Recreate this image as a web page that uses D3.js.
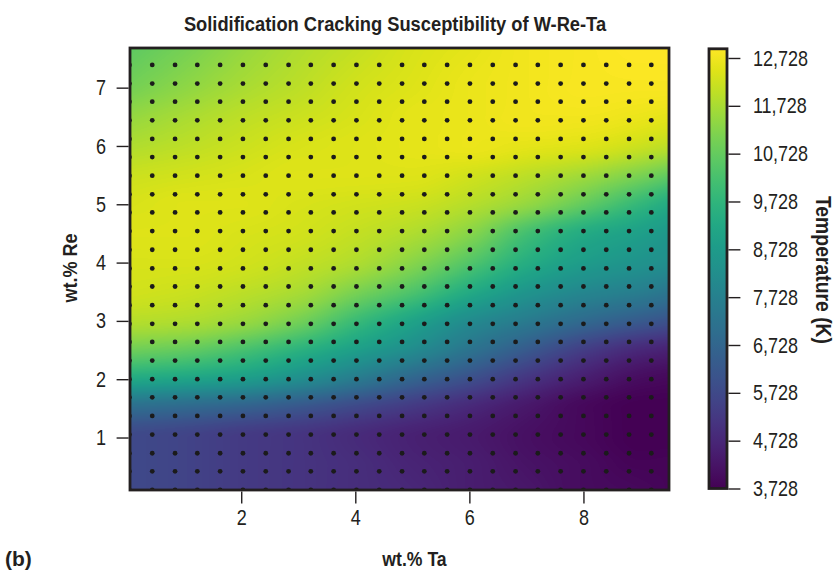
<!DOCTYPE html>
<html>
<head>
<meta charset="utf-8">
<script src="https://cdn.jsdelivr.net/npm/d3@7"></script>
<style>
  html, body { margin: 0; padding: 0; background: #ffffff; }
  svg { display: block; }
</style>
</head>
<body>
<svg id="chart" width="840" height="575"></svg>
<script>
// Sampling grid of the temperature surface (wt.% Ta across, wt.% Re up)
const taGrid = [0.05, 1, 2, 3, 4, 5, 6, 7, 8, 9, 9.5];
const reGrid = [0.1, 0.5, 1, 1.5, 2, 2.5, 3, 3.5, 4, 4.5, 5, 5.5, 6, 6.5, 7, 7.7];

// Temperature (K), one row per reGrid entry, one column per taGrid entry
const tempRe01 = [5750, 5570, 5290, 5110, 4920, 4740, 4460, 4280, 4000, 3910, 3820];
const tempRe05 = [5750, 5570, 5290, 5110, 4920, 4650, 4460, 4190, 4000, 3820, 3820];
const tempRe10 = [5750, 5570, 5290, 5110, 4830, 4560, 4370, 4100, 3910, 3730, 3730];
const tempRe15 = [6950, 6760, 6490, 6120, 5660, 5200, 4740, 4280, 3910, 3730, 3730];
const tempRe20 = [9240, 9060, 8780, 8230, 7500, 6670, 5930, 5110, 4460, 4000, 3910];
const tempRe25 = [10900, 10710, 10250, 9610, 8880, 8140, 7220, 6300, 5380, 4740, 4560];
const tempRe30 = [11910, 11820, 11540, 10990, 9980, 9060, 8140, 7500, 6850, 6300, 6030];
const tempRe35 = [12280, 12190, 12000, 11730, 11080, 10350, 9340, 8510, 7960, 7590, 7310];
const tempRe40 = [12370, 12370, 12280, 12090, 11820, 11270, 10440, 9430, 8780, 8420, 8230];
const tempRe45 = [12460, 12460, 12370, 12280, 12090, 11820, 11270, 10160, 9340, 8880, 8600];
const tempRe50 = [12370, 12460, 12460, 12370, 12280, 12190, 11910, 11450, 10710, 9800, 9340];
const tempRe55 = [12190, 12280, 12370, 12460, 12460, 12460, 12280, 12000, 11630, 11080, 10710];
const tempRe60 = [11820, 12000, 12190, 12370, 12460, 12550, 12640, 12550, 12460, 12190, 12000];
const tempRe65 = [11450, 11730, 12000, 12190, 12370, 12550, 12640, 12740, 12740, 12640, 12550];
const tempRe70 = [10990, 11360, 11730, 12000, 12280, 12460, 12640, 12740, 12830, 12830, 12830];
const tempRe77 = [10620, 10990, 11450, 11820, 12090, 12370, 12550, 12740, 12830, 12920, 12920];

const tempRows = [tempRe01, tempRe05, tempRe10, tempRe15, tempRe20, tempRe25, tempRe30, tempRe35,
                  tempRe40, tempRe45, tempRe50, tempRe55, tempRe60, tempRe65, tempRe70, tempRe77];

// Compositions of the simulated alloys (marked as dots)
const taPoints = [0.04, 0.44, 0.84, 1.23, 1.63, 2.03, 2.43, 2.83, 3.22, 3.62, 4.02, 4.42,
                  4.82, 5.21, 5.61, 6.01, 6.41, 6.81, 7.20, 7.60, 8.00, 8.40, 8.80, 9.19];
const rePoints = [0.10, 0.42, 0.73, 1.05, 1.37, 1.69, 2.00, 2.32, 2.64, 2.95, 3.27, 3.59, 3.90,
                  4.22, 4.54, 4.86, 5.17, 5.49, 5.81, 6.12, 6.44, 6.76, 7.07, 7.39, 7.71];

// Axis ticks and colour-bar range
const taTicks = [2, 4, 6, 8];
const reTicks = [1, 2, 3, 4, 5, 6, 7];
const tempMin = 3728, tempMax = 12920;
const tempTicks = [3728, 4728, 5728, 6728, 7728, 8728, 9728, 10728, 11728, 12728];

// Condensed look: Liberation Sans squeezed horizontally
const FONT = "'Liberation Sans', Arial, sans-serif";
const NARROW = 0.82;
const INK = "#231f20";

const svg = d3.select("#chart");
const plot = { left: 130, right: 669, top: 48, bottom: 490 };

const x = d3.scaleLinear().domain([0.05, 9.5]).range([plot.left, plot.right]);
const y = d3.scaleLinear().domain([0.1, 7.68]).range([plot.bottom, plot.top]);
const color = d3.scaleSequential(d3.interpolateViridis).domain([tempMin, tempMax]);

// Monotone cubic (Fritsch-Butland) slopes and evaluation
function slopes(xs, vs) {
  const n = xs.length, d = [], m = new Array(n);
  for (let i = 0; i < n - 1; i++) d.push((vs[i + 1] - vs[i]) / (xs[i + 1] - xs[i]));
  m[0] = d[0]; m[n - 1] = d[n - 2];
  for (let i = 1; i < n - 1; i++) {
    const h0 = xs[i] - xs[i - 1], h1 = xs[i + 1] - xs[i];
    if (d[i - 1] * d[i] <= 0) m[i] = 0;
    else m[i] = 3 * (h0 + h1) / ((2 * h1 + h0) / d[i - 1] + (h1 + 2 * h0) / d[i]);
  }
  return m;
}
function hermite(xs, vs, ms, t) {
  const n = xs.length;
  if (t <= xs[0]) return vs[0];
  if (t >= xs[n - 1]) return vs[n - 1];
  let i = d3.bisectRight(xs, t) - 1;
  if (i > n - 2) i = n - 2;
  const h = xs[i + 1] - xs[i], s = (t - xs[i]) / h, s2 = s * s, s3 = s2 * s;
  return (2 * s3 - 3 * s2 + 1) * vs[i] + (s3 - 2 * s2 + s) * h * ms[i]
       + (-2 * s3 + 3 * s2) * vs[i + 1] + (s3 - s2) * h * ms[i + 1];
}

// Rasterise the smooth temperature field
const W = plot.right - plot.left, H = plot.bottom - plot.top;
const canvas = document.createElement("canvas");
canvas.width = W; canvas.height = H;
const ctx = canvas.getContext("2d");
const img = ctx.createImageData(W, H);

const columns = taGrid.map((_, j) => reGrid.map((_, i) => tempRows[i][j]));
const colSlopes = columns.map(col => slopes(reGrid, col));
const lut = d3.range(1024).map(k => d3.rgb(color(tempMin + (tempMax - tempMin) * k / 1023)));

for (let py = 0; py < H; py++) {
  const re = y.invert(plot.top + py + 0.5);
  const rowVals = columns.map((col, j) => hermite(reGrid, col, colSlopes[j], re));
  const rowSlopes = slopes(taGrid, rowVals);
  for (let px = 0; px < W; px++) {
    const ta = x.invert(plot.left + px + 0.5);
    const v = hermite(taGrid, rowVals, rowSlopes, ta);
    let k = Math.round((v - tempMin) / (tempMax - tempMin) * 1023);
    k = Math.max(0, Math.min(1023, k));
    const c = lut[k], o = (py * W + px) * 4;
    img.data[o] = c.r; img.data[o + 1] = c.g; img.data[o + 2] = c.b; img.data[o + 3] = 255;
  }
}
ctx.putImageData(img, 0, 0);

const defs = svg.append("defs");
defs.append("clipPath").attr("id", "plot-clip")
  .append("rect").attr("x", plot.left).attr("y", plot.top).attr("width", W).attr("height", H);

svg.append("image")
  .attr("x", plot.left).attr("y", plot.top)
  .attr("width", W).attr("height", H)
  .attr("preserveAspectRatio", "none")
  .attr("href", canvas.toDataURL());

// Alloy composition dots
const points = [];
rePoints.forEach(re => taPoints.forEach(ta => points.push({ ta, re })));
svg.append("g").attr("clip-path", "url(#plot-clip)")
  .selectAll("circle").data(points).join("circle")
  .attr("cx", d => x(d.ta)).attr("cy", d => y(d.re))
  .attr("r", 2.4).attr("fill", "#1b1b1b");

// Panel border
svg.append("rect")
  .attr("x", plot.left).attr("y", plot.top).attr("width", W).attr("height", H)
  .attr("fill", "none").attr("stroke", INK).attr("stroke-width", 2.8);

function styleTicks(g) {
  g.select(".domain").remove();
  g.selectAll(".tick line").attr("stroke", INK).attr("stroke-width", 1.4);
  g.selectAll(".tick text").attr("fill", INK).attr("font-family", FONT).attr("font-size", 22)
    .attr("transform", `scale(${NARROW},1)`);
}

// Axes
const xAxis = svg.append("g").attr("transform", `translate(0,${plot.bottom + 1.4})`)
  .call(d3.axisBottom(x).tickValues(taTicks).tickSize(12).tickPadding(6).tickFormat(d3.format("d")));
styleTicks(xAxis);

const yAxis = svg.append("g").attr("transform", `translate(${plot.left - 1.4},0)`)
  .call(d3.axisLeft(y).tickValues(reTicks).tickSize(12).tickPadding(10).tickFormat(d3.format("d")));
styleTicks(yAxis);
yAxis.selectAll(".tick text").attr("x", -22.5 / NARROW);

// Colour bar
const bar = { x: 709, w: 18, top: 48.8, bottom: 488.5 };
const cy = d3.scaleLinear().domain([tempMin, tempMax]).range([bar.bottom, bar.top]);
const grad = defs.append("linearGradient").attr("id", "viridis-bar")
  .attr("x1", 0).attr("y1", 1).attr("x2", 0).attr("y2", 0);
d3.range(0, 1.0001, 0.05).forEach(t => {
  grad.append("stop").attr("offset", t).attr("stop-color", d3.interpolateViridis(t));
});
svg.append("rect")
  .attr("x", bar.x).attr("y", bar.top).attr("width", bar.w).attr("height", bar.bottom - bar.top)
  .attr("fill", "url(#viridis-bar)").attr("stroke", INK).attr("stroke-width", 2.8);
const cAxis = svg.append("g").attr("transform", `translate(${bar.x + bar.w + 1.4},0)`)
  .call(d3.axisRight(cy).tickValues(tempTicks).tickSize(12).tickPadding(12).tickFormat(d3.format(",")));
styleTicks(cAxis);
cAxis.selectAll(".tick text").attr("x", 24.5 / NARROW);

// Titles and labels
function label(tx, ty, rot, size, squeeze, str) {
  svg.append("text")
    .attr("transform", `translate(${tx},${ty}) rotate(${rot}) scale(${squeeze},1)`)
    .attr("text-anchor", "middle")
    .attr("font-family", FONT).attr("font-weight", "bold").attr("font-size", size)
    .attr("fill", INK).text(str);
}
label(395, 31, 0, 21, 0.872, "Solidification Cracking Susceptibility of W-Re-Ta");
label(414.5, 566, 0, 21, 0.84, "wt.% Ta");
label(77, 268, -90, 21, 0.86, "wt.% Re");
label(816, 270, 90, 22, 0.88, "Temperature (K)");

svg.append("text").attr("x", 5).attr("y", 566)
  .attr("font-family", FONT).attr("font-weight", "bold").attr("font-size", 21).attr("fill", INK)
  .text("(b)");
</script>
</body>
</html>
